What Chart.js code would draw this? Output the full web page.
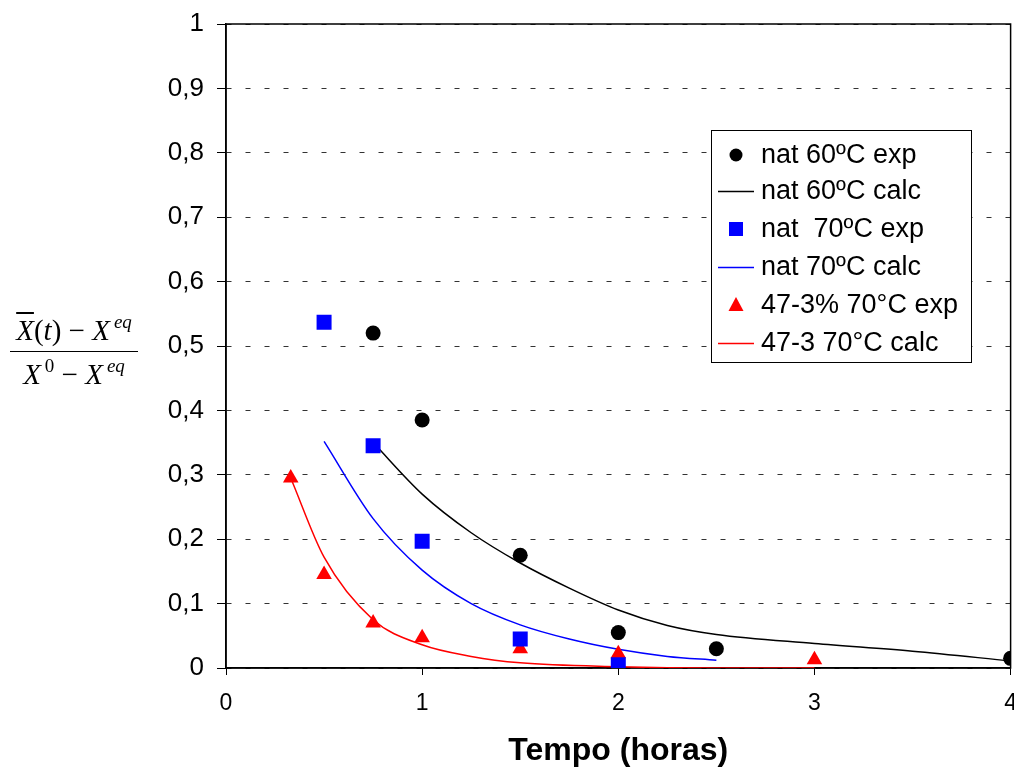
<!DOCTYPE html>
<html lang="pt">
<head>
    <meta charset="UTF-8">
    <title>Tempo (horas)</title>
    <script src="https://cdn.jsdelivr.net/npm/chart.js"></script>
    <style>
        body { margin: 0; background: #fff; }
        .wrap { position: relative; width: 1014px; height: 767px; overflow: hidden; }
        #chart { position: absolute; left: 0; top: 0; }

        /* y axis title, written as a fraction */
        .frac {
            position: absolute; left: 10px; width: 128px;
            font-family: "Liberation Serif", "DejaVu Serif", serif;
            font-size: 29px; color: #000; text-align: center; white-space: nowrap;
        }
        .frac i { font-style: italic; }
        .frac sup { font-size: 19px; vertical-align: 12px; line-height: 0; margin-left: 4px; }
        .frac .bar { text-decoration: overline; }
        #num { top: 312px; line-height: 36px; }
        #den { top: 351px; line-height: 36px; padding-top: 4px; border-top: 1.5px solid #000; }
    </style>
</head>
<body>
<div class="wrap">
    <canvas id="chart" width="1032" height="767" style="width:1032px;height:767px"></canvas>
    <div class="frac" id="num"><i class="bar">X</i>(<i>t</i>) − <i>X</i><sup><i>eq</i></sup></div>
    <div class="frac" id="den"><i>X</i><sup>0</sup> − <i>X</i><sup><i>eq</i></sup></div>
</div>
<script>
    // dados experimentais
    const nat60ExpT = [0.75, 1, 1.5, 2, 2.5, 4];
    const nat60ExpY = [0.52, 0.385, 0.175, 0.055, 0.03, 0.015];
    const nat70ExpT = [0.5, 0.75, 1, 1.5, 2];
    const nat70ExpY = [0.537, 0.345, 0.197, 0.045, 0.005];
    const m47ExpT = [0.33, 0.5, 0.75, 1, 1.5, 2, 3];
    const m47ExpY = [0.295, 0.145, 0.07, 0.047, 0.03, 0.022, 0.013];

    // curvas calculadas
    const nat60CalcT = [0.75, 1, 1.25, 1.5, 1.75, 2, 2.25, 2.5, 3, 3.5, 4];
    const nat60CalcY = [0.35, 0.27, 0.21, 0.163, 0.124, 0.09, 0.066, 0.052, 0.038, 0.026, 0.011];
    const nat70CalcT = [0.5, 0.75, 1, 1.25, 1.5, 1.75, 2, 2.25, 2.5];
    const nat70CalcY = [0.352, 0.232, 0.152, 0.1, 0.067, 0.045, 0.029, 0.018, 0.012];
    const m47CalcT = [0.33, 0.5, 0.75, 1, 1.25, 1.5, 2, 2.5, 3];
    const m47CalcY = [0.295, 0.172, 0.075, 0.036, 0.018, 0.008, 0.002, 0.0, 0.0];

    const xTicks = [0, 1, 2, 3, 4];
    const yTicks = [0, 0.1, 0.2, 0.3, 0.4, 0.5, 0.6, 0.7, 0.8, 0.9, 1];

    const pts = (t, y) => t.map((v, i) => ({ x: v, y: y[i] }));

    const FONT = "'Liberation Sans', Arial, sans-serif";

    // moldura do gráfico
    const framePlugin = {
        id: 'frame',
        beforeDatasetsDraw(chart) {
            const { ctx, chartArea: a } = chart;
            ctx.save();
            ctx.strokeStyle = '#000';
            ctx.lineWidth = 1.5;
            ctx.strokeRect(a.left, a.top, a.right - a.left, a.bottom - a.top);
            ctx.restore();
        }
    };

    // legenda dentro do gráfico, com caixa
    const boxLegend = {
        id: 'boxLegend',
        afterDraw(chart) {
            const ctx = chart.ctx;
            const bx = 711, by = 130, bw = 260, bh = 232;
            ctx.save();
            ctx.fillStyle = '#fff';
            ctx.fillRect(bx, by, bw, bh);
            ctx.strokeStyle = '#000';
            ctx.lineWidth = 1;
            ctx.strokeRect(bx + 0.5, by + 0.5, bw, bh);
            const rows = [155, 191, 229, 267, 305, 343];
            chart.data.datasets.forEach((ds, i) => {
                const y = rows[i];
                const mx = 736;
                ctx.fillStyle = ds.backgroundColor;
                ctx.strokeStyle = ds.borderColor;
                if (ds.showLine) {
                    ctx.lineWidth = 1.5;
                    ctx.beginPath();
                    ctx.moveTo(718, y + 0.5);
                    ctx.lineTo(754, y + 0.5);
                    ctx.stroke();
                } else if (ds.pointStyle === 'circle') {
                    ctx.beginPath();
                    ctx.arc(mx, y, 6.5, 0, Math.PI * 2);
                    ctx.fill();
                } else if (ds.pointStyle === 'rect') {
                    ctx.fillRect(mx - 7, y - 7, 14, 14);
                } else {
                    ctx.beginPath();
                    ctx.moveTo(mx, y - 8);
                    ctx.lineTo(mx + 7.5, y + 6);
                    ctx.lineTo(mx - 7.5, y + 6);
                    ctx.closePath();
                    ctx.fill();
                }
                ctx.fillStyle = '#000';
                ctx.font = '27px ' + FONT;
                ctx.textBaseline = 'middle';
                ctx.textAlign = 'left';
                ctx.fillText(ds.label, 761, y + 1);
            });
            ctx.restore();
        }
    };

    const ctx = document.getElementById('chart').getContext('2d');
    new Chart(ctx, {
        type: 'scatter',
        data: {
            datasets: [
                { label: 'nat 60ºC exp', data: pts(nat60ExpT, nat60ExpY), pointStyle: 'circle',
                  pointRadius: 7.5, backgroundColor: '#000', borderColor: '#000', borderWidth: 0, order: 1 },
                { label: 'nat 60ºC calc', data: pts(nat60CalcT, nat60CalcY), showLine: true, pointRadius: 0,
                  borderColor: '#000', backgroundColor: '#000', borderWidth: 1.5, cubicInterpolationMode: 'monotone', order: 2 },
                { label: 'nat  70ºC exp', data: pts(nat70ExpT, nat70ExpY), pointStyle: 'rect',
                  pointRadius: 10.6, backgroundColor: '#0000ff', borderColor: '#0000ff', borderWidth: 0, order: 1 },
                { label: 'nat 70ºC calc', data: pts(nat70CalcT, nat70CalcY), showLine: true, pointRadius: 0,
                  borderColor: '#0000ff', backgroundColor: '#0000ff', borderWidth: 1.5, cubicInterpolationMode: 'monotone', order: 2 },
                { label: '47-3% 70°C exp', data: pts(m47ExpT, m47ExpY), pointStyle: 'triangle',
                  pointRadius: 9, backgroundColor: '#ff0000', borderColor: '#ff0000', borderWidth: 0, order: 1 },
                { label: '47-3 70°C calc', data: pts(m47CalcT, m47CalcY), showLine: true, pointRadius: 0,
                  borderColor: '#ff0000', backgroundColor: '#ff0000', borderWidth: 1.5, cubicInterpolationMode: 'monotone', order: 2 }
            ]
        },
        options: {
            responsive: false,
            animation: false,
            layout: { padding: { top: 24, right: 0, bottom: 0, left: 0 } },
            plugins: { legend: { display: false }, tooltip: { enabled: false } },
            scales: {
                x: {
                    type: 'linear', min: 0, max: 4,
                    afterBuildTicks: s => { s.ticks = xTicks.map(v => ({ value: v })); },
                    afterFit: s => { s.height = 99; },
                    grid: { drawOnChartArea: false, drawTicks: true, tickLength: 7, color: '#000', tickColor: '#000' },
                    border: { display: true, color: '#000', width: 1.5 },
                    ticks: { color: '#000', font: { family: FONT, size: 23 }, padding: 15, maxRotation: 0 },
                    title: { display: true, text: 'Tempo (horas)', color: '#000',
                             font: { family: FONT, size: 32, weight: 'bold', lineHeight: 1 }, padding: { top: 0, bottom: 0 } }
                },
                y: {
                    min: 0, max: 1,
                    afterBuildTicks: s => { s.ticks = yTicks.map(v => ({ value: v })); },
                    afterFit: s => { s.width = 226; },
                    grid: { drawOnChartArea: true, drawTicks: true, tickLength: 9, color: '#333',
                            tickColor: '#000', tickBorderDash: [], lineWidth: 1 },
                    border: { display: true, color: '#000', width: 1.5, dash: [5, 14] },
                    ticks: { color: '#000', font: { family: FONT, size: 26, lineHeight: 0.5 }, padding: 13,
                             callback: v => String(Math.round(v * 10) / 10).replace('.', ',') }
                }
            }
        },
        plugins: [framePlugin, boxLegend]
    });
</script>
</body>
</html>
